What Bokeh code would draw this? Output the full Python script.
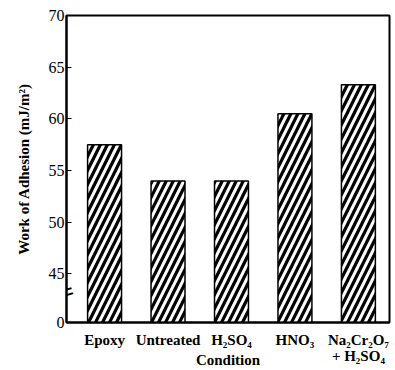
from bokeh.plotting import figure
from bokeh.models import FixedTicker, Range1d, Label, ColumnDataSource
from bokeh.embed import file_html
from bokeh.resources import INLINE

categories = ["Epoxy", "Untreated", "H₂SO₄", "HNO₃", "Na₂Cr₂O₇\n+ H₂SO₄"]
values = [57.5, 54.0, 54.0, 60.5, 63.3]
y_ticks = [40.3, 45, 50, 55, 60, 65, 70]
y_tick_labels = ["0", "45", "50", "55", "60", "65", "70"]
axis_floor = 40.3  # display position of the broken-axis zero

xs = list(range(1, len(categories) + 1))
src = ColumnDataSource(dict(x=xs, top=values, bottom=[axis_floor] * len(xs)))

p = figure(width=395, height=370, output_backend="svg", toolbar_location=None,
           x_range=Range1d(0.40, 5.49), y_range=Range1d(axis_floor, 70),
           min_border_left=66, min_border_right=6, min_border_top=15, min_border_bottom=48)

p.vbar(x="x", top="top", bottom="bottom", width=0.535, source=src,
       fill_color="white", line_color="black", line_width=1.5,
       hatch_pattern="/", hatch_color="black", hatch_scale=14, hatch_weight=3.2)

serif = "Liberation Serif"
p.xgrid.visible = False
p.ygrid.visible = False
p.outline_line_color = "black"
p.outline_line_width = 2

p.yaxis.ticker = FixedTicker(ticks=y_ticks)
p.yaxis.major_label_overrides = {t: l for t, l in zip(y_ticks, y_tick_labels)}
p.yaxis.major_tick_in = 5
p.yaxis.major_tick_out = 0
p.yaxis.minor_tick_line_color = None
p.yaxis.axis_line_width = 2
p.yaxis.major_label_text_font = serif
p.yaxis.major_label_text_font_size = "16px"
p.yaxis.major_label_text_color = "black"
p.yaxis.major_label_standoff = 2
p.yaxis.axis_label = "Work of Adhesion (mJ/m²)"
p.yaxis.axis_label_text_font = serif
p.yaxis.axis_label_text_font_style = "bold"
p.yaxis.axis_label_text_font_size = "15px"
p.yaxis.axis_label_text_color = "black"
p.yaxis.axis_label_standoff = 14

p.xaxis.ticker = FixedTicker(ticks=xs)
p.xaxis.major_label_overrides = {x: c for x, c in zip(xs, categories)}
p.xaxis.major_tick_line_color = None
p.xaxis.minor_tick_line_color = None
p.xaxis.axis_line_width = 2
p.xaxis.major_label_text_font = serif
p.xaxis.major_label_text_font_style = "bold"
p.xaxis.major_label_text_font_size = "15px"
p.xaxis.major_label_text_color = "black"
p.xaxis.major_label_text_line_height = 1.0
p.xaxis.major_label_standoff = 3
p.xaxis.axis_label = "Condition"
p.xaxis.axis_label_text_font = serif
p.xaxis.axis_label_text_font_style = "bold"
p.xaxis.axis_label_text_font_size = "15px"
p.xaxis.axis_label_text_color = "black"
p.xaxis.axis_label_standoff = -15

# axis break marker
p.add_layout(Label(x=0.40, y=43.2, text="=", text_font=serif, text_font_size="26px",
                   text_font_style="bold", angle=0.3, text_align="center",
                   text_baseline="middle", text_color="black"))

open("out.html", "w").write(file_html(p, INLINE))
